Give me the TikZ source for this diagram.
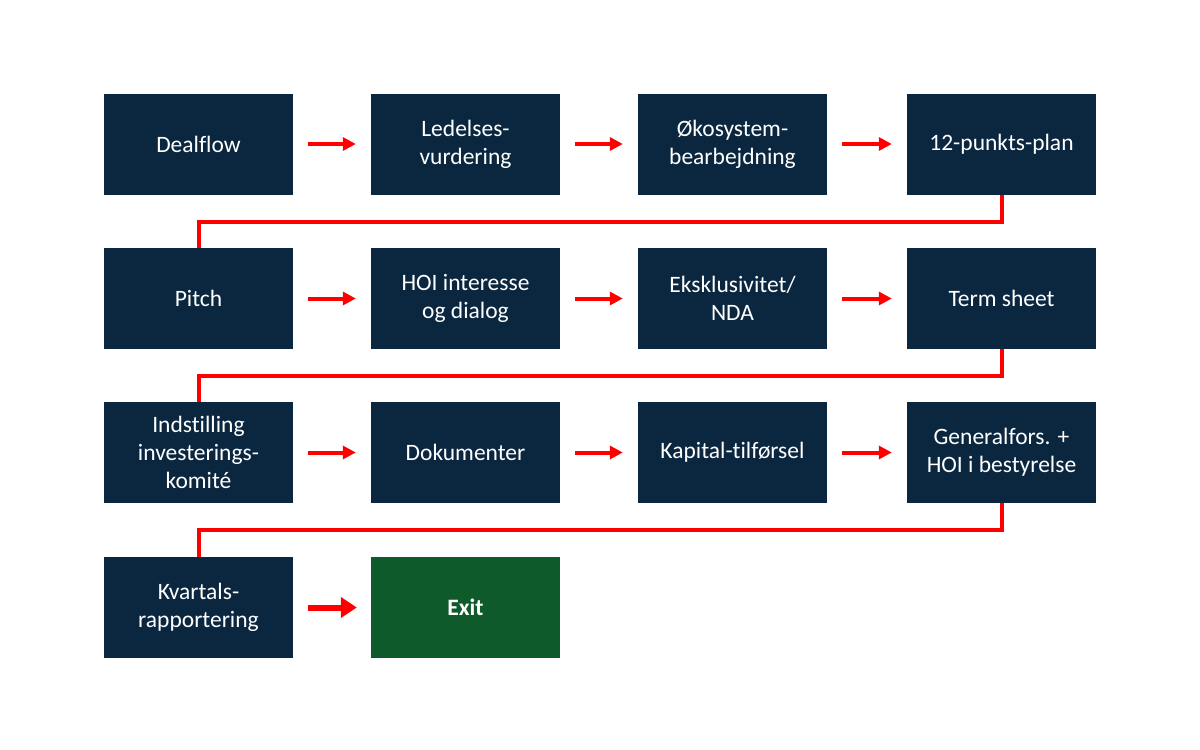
\documentclass[tikz,border=0pt]{standalone}
\usepackage{fontspec}
\setmainfont{Carlito}[Ligatures={NoCommon}]
\usetikzlibrary{arrows.meta}
\definecolor{navy}{HTML}{0B2740}
\definecolor{exitgreen}{HTML}{0F5A2B}
\definecolor{flowred}{HTML}{FF0000}
\begin{document}
\begin{tikzpicture}[x=1pt,y=-1pt,
  box/.style={fill=navy,text=white,minimum width=189pt,minimum height=101pt,inner sep=0pt,align=center,font=\fontsize{23.5}{28}\selectfont},
  exitbox/.style={box,fill=exitgreen,font=\fontsize{23.5}{28}\selectfont\bfseries},
  flow/.style={draw=flowred,line width=4pt,-{Triangle[length=13pt,width=13pt]},shorten >=15pt,shorten <=15pt},
  bigflow/.style={draw=flowred,line width=6pt,-{Triangle[length=16pt,width=20pt]},shorten >=14pt,shorten <=15pt},
  link/.style={draw=flowred,line width=4pt}]
\useasboundingbox (0,0) rectangle (1200,750);
\node[box] (a1) at (198.5,144) {Dealflow};
\node[box] (a2) at (465.5,144) {Ledelses-\\vurdering};
\node[box] (a3) at (732.5,144) {Økosystem-\\bearbejdning};
\node[box] (a4) at (1001.5,144) {12-punkts-plan};
\node[box] (b1) at (198.5,298.5) {Pitch};
\node[box] (b2) at (465.5,298.5) {HOI interesse\\og dialog};
\node[box] (b3) at (732.5,298.5) {Eksklusivitet/\\NDA};
\node[box] (b4) at (1001.5,298.5) {Term sheet};
\node[box] (c1) at (198.5,452.5) {Indstilling\\investerings-\\komité};
\node[box] (c2) at (465.5,452.5) {Dokumenter};
\node[box] (c3) at (732.5,452.5) {Kapital-tilførsel};
\node[box] (c4) at (1001.5,452.5) {Generalfors. +\\HOI i bestyrelse};
\node[box] (d1) at (198.5,607.5) {Kvartals-\\rapportering};
\node[exitbox] (d2) at (465.5,607.5) {Exit};
\foreach \r in {a,b,c}{
  \draw[flow] (\r1.east) -- (\r2.west);
  \draw[flow] (\r2.east) -- (\r3.west);
  \draw[flow] (\r3.east) -- (\r4.west);
}
\draw[bigflow] (d1.east) -- (d2.west);
\draw[link] (a4.south) -- ++(0,27) -| (b1.north);
\draw[link] (b4.south) -- ++(0,27) -| (c1.north);
\draw[link] (c4.south) -- ++(0,27) -| (d1.north);
\end{tikzpicture}
\end{document}
